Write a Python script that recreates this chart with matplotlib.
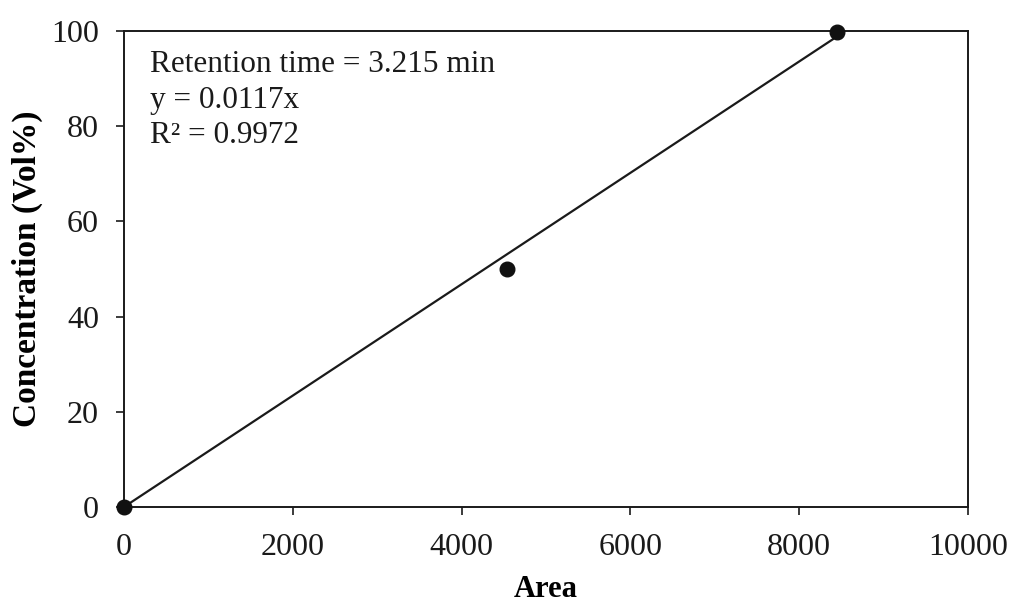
import matplotlib
matplotlib.use("Agg")
import matplotlib.pyplot as plt
import numpy as np

area = [0, 4540, 8450]
conc = [0, 50.0, 99.8]
slope = 0.0117
xticks = [0, 2000, 4000, 6000, 8000, 10000]
yticks = [0, 20, 40, 60, 80, 100]
annot = ["Retention time = 3.215 min", "y = 0.0117x", "R² = 0.9972"]

plt.rcParams['font.family'] = ['Liberation Serif', 'DejaVu Serif']
fig = plt.figure(figsize=(10.12, 6.06), dpi=100)
ax = fig.add_axes([0.1225, 0.1634, 0.834, 0.7854])

xl = np.array([0, area[-1]])
ax.plot(xl, slope * xl, color='#1a1a1a', lw=1.6, zorder=2)
ax.plot(area, conc, 'o', color='#111111', markersize=10.5, zorder=3, clip_on=False)

ax.set_xlim(0, 10000)
ax.set_ylim(0, 100)
ax.set_xticks(xticks)
ax.set_yticks(yticks)
ax.tick_params(direction='out', length=6, width=1.2, labelsize=23, colors='#1a1a1a')
ax.tick_params(axis='x', pad=13)
ax.tick_params(axis='y', pad=12)
for s in ax.spines.values():
    s.set_linewidth(1.4)
    s.set_color('#1a1a1a')

ax.set_xlabel("Area", fontsize=22, fontweight='bold', labelpad=9)
ax.set_ylabel("Concentration (Vol%)", fontsize=24, fontweight='bold', labelpad=6)

ax.text(0.031, 0.96, "\n".join(annot), transform=ax.transAxes, fontsize=22.5,
        va='top', ha='left', linespacing=1.3, color='#1a1a1a')

fig.savefig("out.png", dpi=100)
